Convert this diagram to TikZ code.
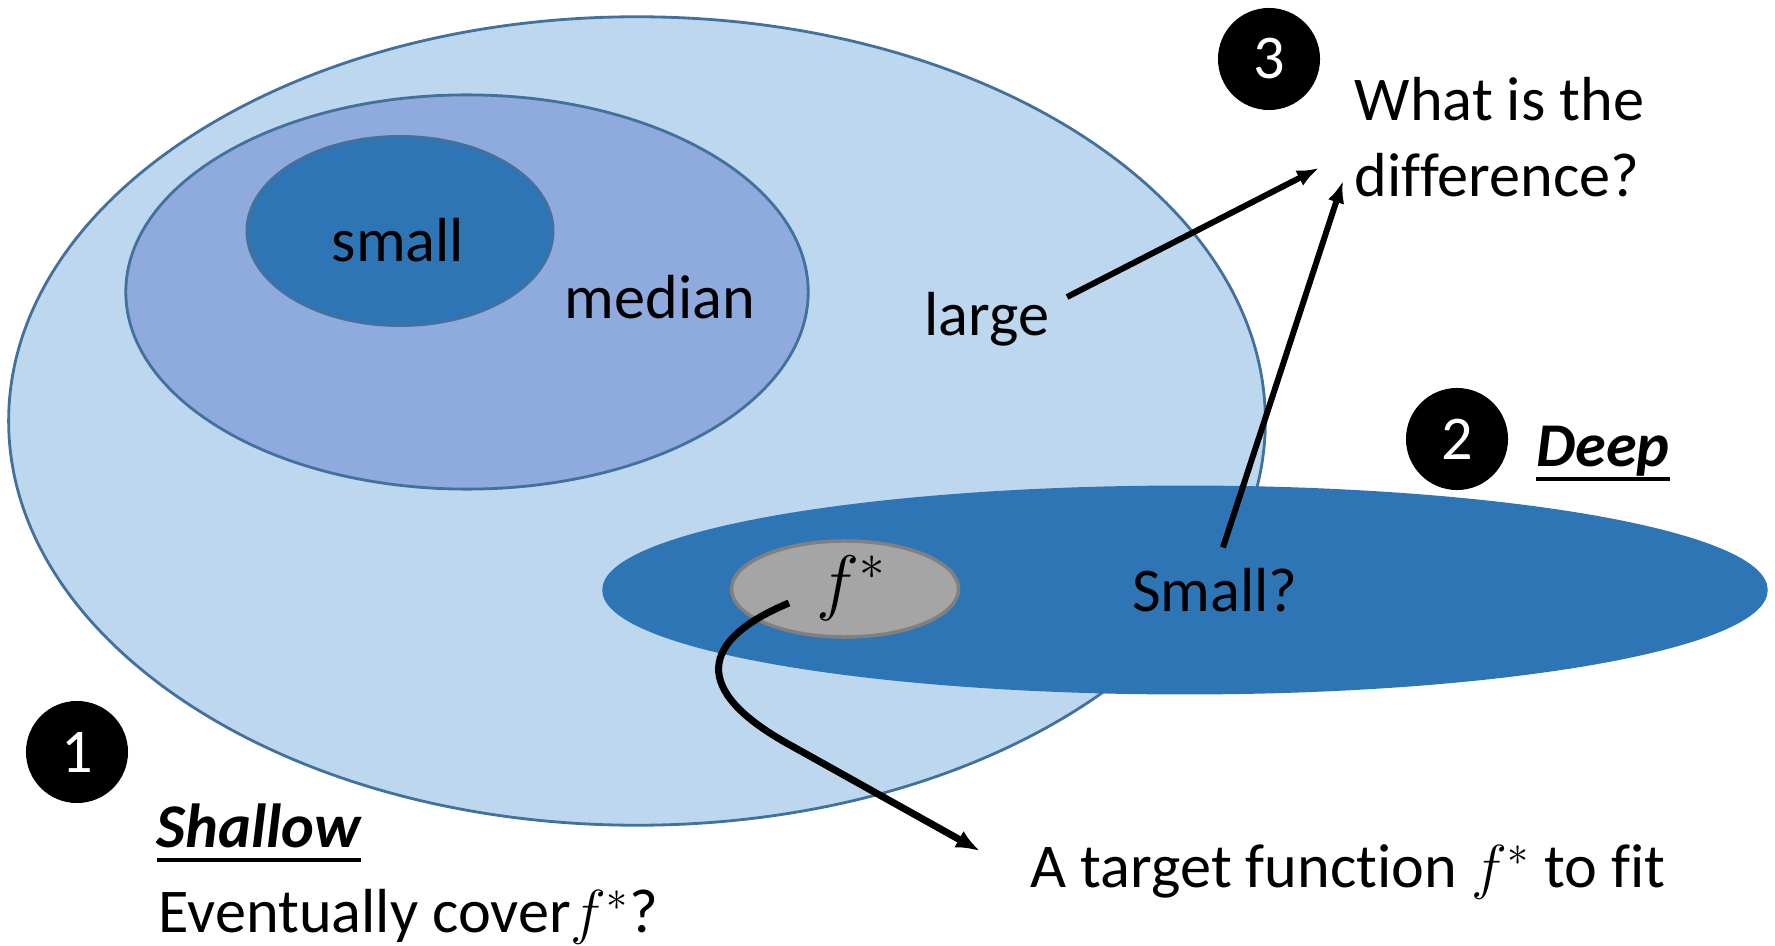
\documentclass[tikz,border=0pt]{standalone}
\usepackage{fontspec}
\setmainfont{Carlito}[Ligatures=NoCommon]
\usetikzlibrary{positioning,shapes.geometric,arrows.meta,calc}

\definecolor{setlight}{HTML}{BDD7EE}
\definecolor{setmid}{HTML}{8FAADC}
\definecolor{setdark}{HTML}{2E75B6}
\definecolor{setedge}{HTML}{41719C}
\definecolor{targetgray}{HTML}{A5A5A5}

% heading with a heavier underline set a little below the baseline
\newcommand{\ulhead}[1]{\sbox0{#1}\rlap{\usebox0}\rule[-0.24em]{\wd0}{1.1pt}}

\begin{document}
\begin{tikzpicture}[
    x=0.01cm, y=-0.01cm,
    every node/.style={font=\fontsize{17.7}{21.5}\selectfont},
    region/.style={ellipse, draw=setedge, line width=0.8pt, inner sep=0pt},
    tag/.style={inner sep=0pt},
    badge/.style={circle, fill=black, text=white, minimum size=1.02cm, inner sep=0pt},
    heading/.style={inner sep=0pt, font=\fontsize{17.7}{21.5}\selectfont\bfseries\itshape},
    arrow/.style={-{Latex[length=0.22cm, width=0.17cm]}, line width=1.7pt}
]
    \useasboundingbox (0,0) rectangle (1775,946);

    % nested sets of functions
    \node[region, fill=setlight, minimum width=12.56cm, minimum height=8.08cm] (large) at (637,421) {};
    \node[region, fill=setmid, minimum width=6.82cm, minimum height=3.94cm] (median) at (467,292) {};
    \node[region, fill=setdark, minimum width=3.06cm, minimum height=1.89cm] (small) at (400,231) {};
    \node[region, fill=setdark, draw=setdark, minimum width=11.62cm, minimum height=2.06cm] (deep) at (1185,590) {};
    \node[region, fill=targetgray, draw=gray, line width=1pt, minimum width=2.27cm, minimum height=0.96cm] (fstar) at (845,589) {};

    \node[tag] (small-lbl) at (398,240) {small};
    \node[tag] (median-lbl) at (660,297) {median};
    \node[tag] (large-lbl) at (987,319) {large};
    \node[tag] (smallq) at (1215,590) {Small?};
    \node[tag, font=\fontsize{20}{24}\selectfont] (fstar-lbl) at (852,588) {$f^*$};

    % numbered questions
    \node[badge] (three) at (1269,59) {3};
    \node[badge] (two) at (1457,439) {2};
    \node[badge] (one) at (77,752) {1};

    \node[tag, anchor=west, align=left] (question) at (1354,137) {What is the\\difference?};
    \node[heading, right=0.27cm of two, anchor=base west, yshift=-0.27cm] (deep-lbl) {\ulhead{Deep}};
    \node[heading, anchor=base west] (shallow-lbl) at (156,847) {\ulhead{Shallow}};
    \node[tag, anchor=west] (cover) at (158,917) {Eventually cover$f^*$?};
    \node[tag, anchor=west] (target) at (1030,872) {A target function $f^*$ to fit};

    \draw[arrow] ($(large-lbl.east)+(17,-22)$) -- ($(question.west)+(-35,31)$);
    \draw[arrow] ($(smallq.north)+(8,-20)$) -- ($(question.west)+(-11,44)$);
    \draw[line width=2pt, -{Latex[length=0.24cm, width=0.19cm]}]
        ($(fstar.center)+(-56,14)$) .. controls (700,640) and (690,690) .. (790,745)
        -- ($(target.west)+(-50,-21)$);
\end{tikzpicture}
\end{document}
